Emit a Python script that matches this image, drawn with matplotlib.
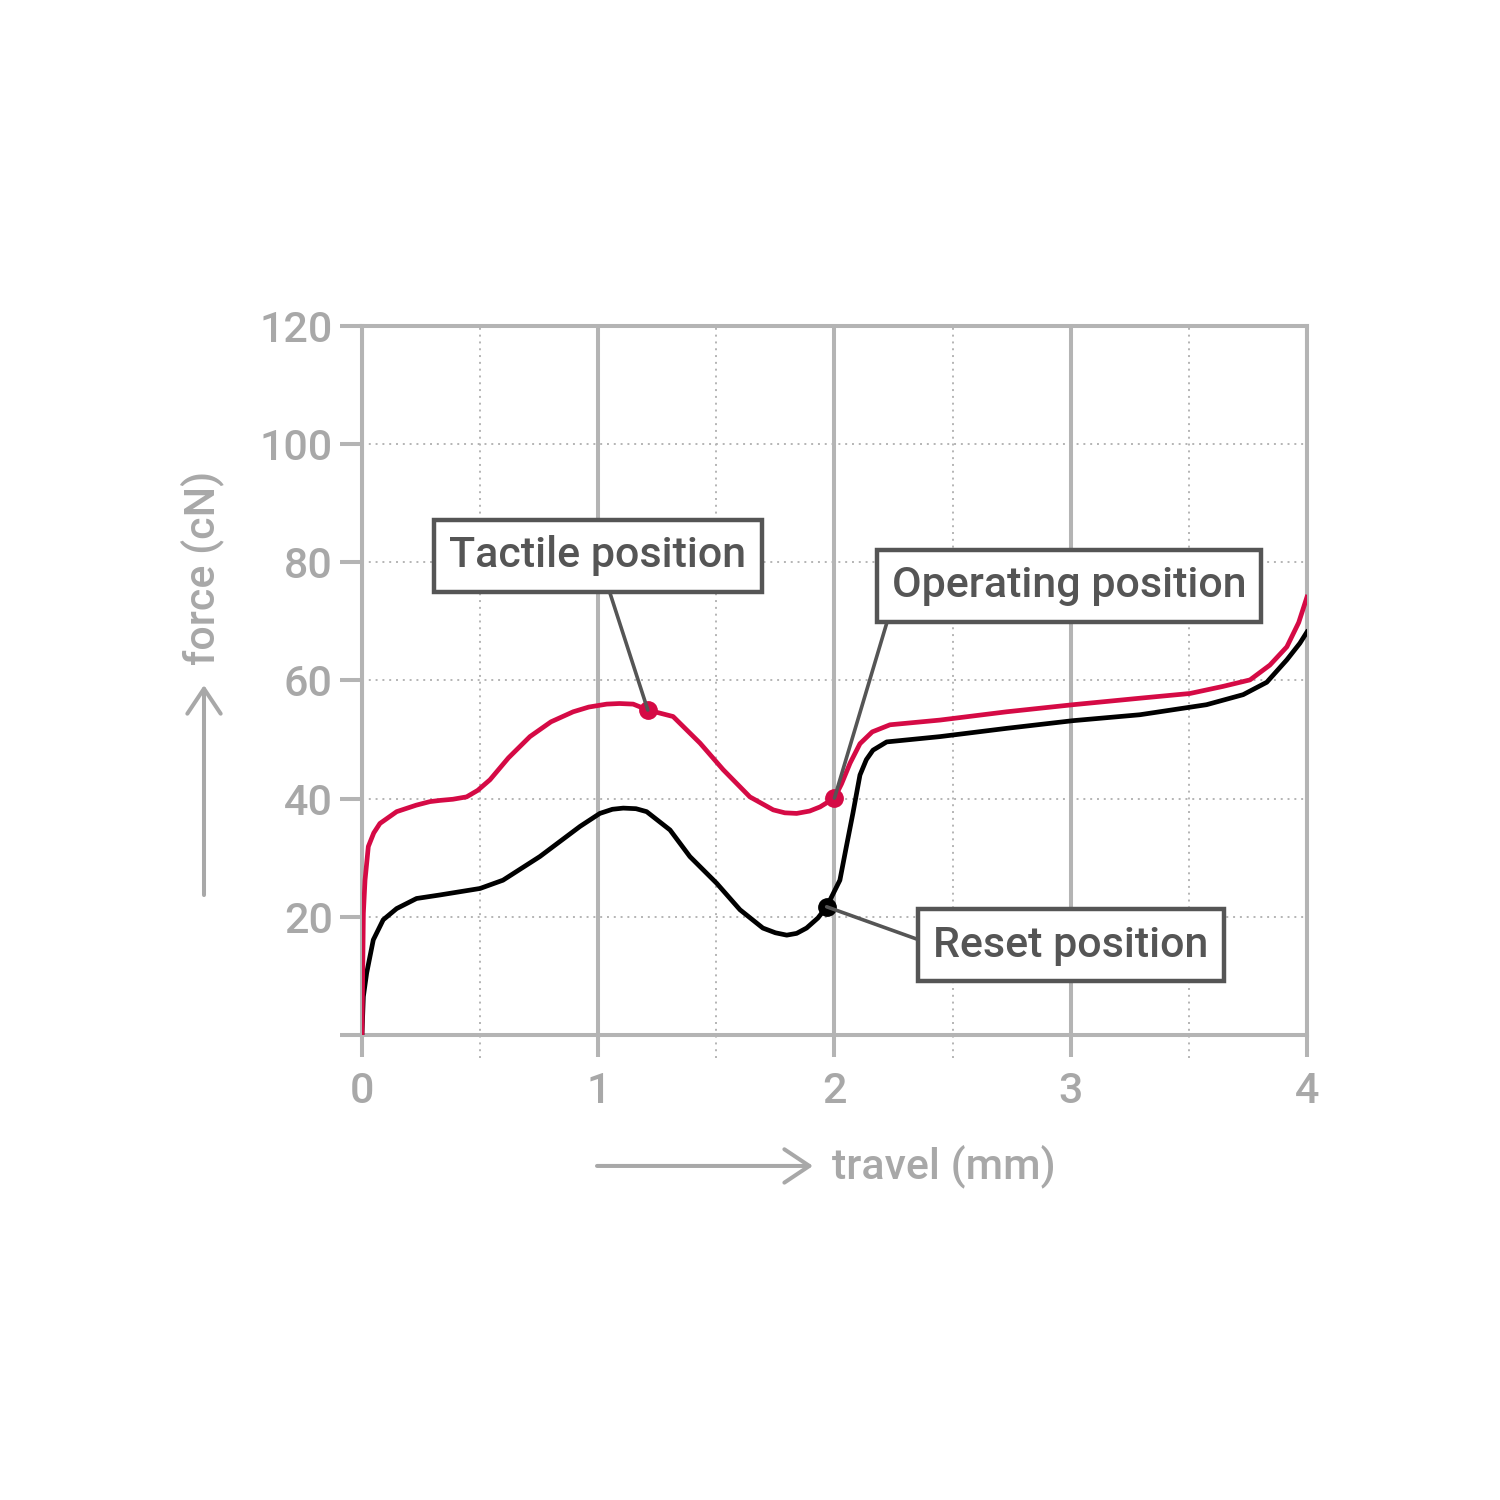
import numpy as np
import matplotlib
matplotlib.use("Agg")
import matplotlib.pyplot as plt

plt.rcParams['font.family'] = ['Roboto', 'DejaVu Sans']

# travel (mm) / force (cN)
red_x = [0, 0.003, 0.006, 0.013, 0.027, 0.05, 0.076, 0.147, 0.23, 0.288, 0.33, 0.385,
         0.443, 0.49, 0.542, 0.62, 0.711, 0.8, 0.894, 0.96, 1.036, 1.09, 1.148, 1.21,
         1.317, 1.431, 1.529, 1.642, 1.741, 1.79, 1.84, 1.895, 1.939, 2.0, 2.03, 2.066,
         2.108, 2.16, 2.235, 2.447, 2.729, 3.01, 3.293, 3.505, 3.645, 3.759, 3.843,
         3.915, 3.965, 4.0]
red_y = [0, 10, 20.6, 26.2, 31.9, 34.2, 35.8, 37.8, 38.9, 39.5, 39.7, 39.9,
         40.3, 41.4, 43.2, 46.9, 50.5, 53.0, 54.7, 55.5, 56.0, 56.1, 56.0, 55.0,
         53.9, 49.4, 44.9, 40.3, 38.1, 37.6, 37.5, 37.9, 38.6, 40.1, 42.5, 46.0,
         49.3, 51.3, 52.5, 53.3, 54.7, 55.9, 57.0, 57.8, 59.0, 60.1, 62.6,
         65.7, 69.8, 74.1]

black_x = [0, 0.006, 0.02, 0.048, 0.09, 0.147, 0.231, 0.33, 0.5, 0.597, 0.753, 0.923,
           1.007, 1.06, 1.106, 1.16, 1.205, 1.304, 1.388, 1.501, 1.6, 1.697, 1.75,
           1.798, 1.84, 1.882, 1.93, 1.967, 2.023, 2.05, 2.078, 2.108, 2.135, 2.163,
           2.221, 2.447, 2.729, 3.01, 3.293, 3.575, 3.73, 3.83, 3.915, 3.97, 4.0]
black_y = [0, 6.5, 10.5, 16.1, 19.5, 21.4, 23.1, 23.7, 24.8, 26.2, 30.2, 35.3,
           37.5, 38.2, 38.4, 38.3, 37.8, 34.7, 30.2, 25.7, 21.2, 18.1, 17.3,
           16.9, 17.2, 18.1, 19.8, 21.7, 26.2, 31.8, 37.5, 44.0, 46.6, 48.2,
           49.6, 50.5, 51.9, 53.2, 54.2, 55.9, 57.6, 59.7, 63.5, 66.3, 68.2]

labels = ["Tactile position", "Operating position", "Reset position"]
label_x = [1.21, 2.0, 1.967]
label_y = [55.0, 40.1, 21.7]

x_ticks = [0, 1, 2, 3, 4]
y_ticks = [0, 20, 40, 60, 80, 100, 120]
y_ticklabels = ["", "20", "40", "60", "80", "100", "120"]

RED = '#d50a45'
GRID = '#b4b4b4'
TXT = '#a8a8a8'
DARK = '#555555'

fig = plt.figure(figsize=(15, 15), dpi=100)
ax = fig.add_axes([0.2413, 0.31, 0.63, 0.4727])

ax.set_xlim(0, 4)
ax.set_ylim(0, 120)
ax.set_xticks(x_ticks)
ax.set_yticks(y_ticks)
ax.set_yticklabels(y_ticklabels)
ax.tick_params(axis='both', colors=GRID, width=2.9, length=16, labelcolor=TXT, labelsize=31)
ax.tick_params(axis='x', pad=10)
ax.tick_params(axis='y', pad=5)
for lbl in ax.get_xticklabels() + ax.get_yticklabels():
    lbl.set_fontweight('medium')
for s in ax.spines.values():
    s.set_color(GRID)
    s.set_linewidth(2.9)

ax.grid(axis='y', color=GRID, lw=1.4, linestyle=(0, (1, 2.5)))
ax.grid(axis='x', color=GRID, lw=2.9)
ax.set_axisbelow(True)
for xm in [0.5, 1.5, 2.5, 3.5]:
    ax.axvline(xm, ymin=-0.033, ymax=1, color=GRID, lw=1.4, linestyle=(0, (1, 2.5)),
               clip_on=False, zorder=0.5)

ax.plot(black_x, black_y, color='black', lw=3.4, zorder=3, solid_joinstyle='round')
ax.plot(red_x, red_y, color=RED, lw=3.4, zorder=3, solid_joinstyle='round')

ax.plot(label_x[:2], label_y[:2], 'o', color=RED, ms=12.5, zorder=4)
ax.plot(label_x[2:], label_y[2:], 'o', color='black', ms=12.5, zorder=4)

box = dict(boxstyle='square,pad=0.35', fc='white', ec=DARK, lw=3.2)
text_pos = [(598, 944), (1069, 914), (1071, 555)]
rel = [(0.5, 0.5), (0.0, 0.0), (0.0, 0.5)]
for lab, px, py, tp, rp in zip(labels, label_x, label_y, text_pos, rel):
    ax.annotate(lab, xy=(px, py), xytext=tp, textcoords='figure pixels',
                ha='center', va='center', fontsize=31, fontweight='medium', color=DARK,
                bbox=box,
                arrowprops=dict(arrowstyle='-', color=DARK, lw=2.6, relpos=rp,
                                shrinkA=0, shrinkB=0),
                zorder=5)

# axis titles with open arrows
fig.text(0.5547, 0.2227, "travel (mm)", ha='left', va='center', fontsize=31,
         fontweight='medium', color=TXT)
ax.annotate("", xy=(0.542, 0.2227), xytext=(0.398, 0.2227), xycoords='figure fraction',
            textcoords='figure fraction',
            arrowprops=dict(arrowstyle='->,head_length=0.9,head_width=0.6', color=TXT,
                            lw=2.9, mutation_scale=20, shrinkA=0, shrinkB=0))
fig.text(0.1347, 0.5567, "force (cN)", ha='center', va='bottom', rotation=90,
         fontsize=31, fontweight='medium', color=TXT)
ax.annotate("", xy=(0.136, 0.5433), xytext=(0.136, 0.4033), xycoords='figure fraction',
            textcoords='figure fraction',
            arrowprops=dict(arrowstyle='->,head_length=0.9,head_width=0.6', color=TXT,
                            lw=2.9, mutation_scale=20, shrinkA=0, shrinkB=0))

fig.savefig('out.png', dpi=100, facecolor='white')
